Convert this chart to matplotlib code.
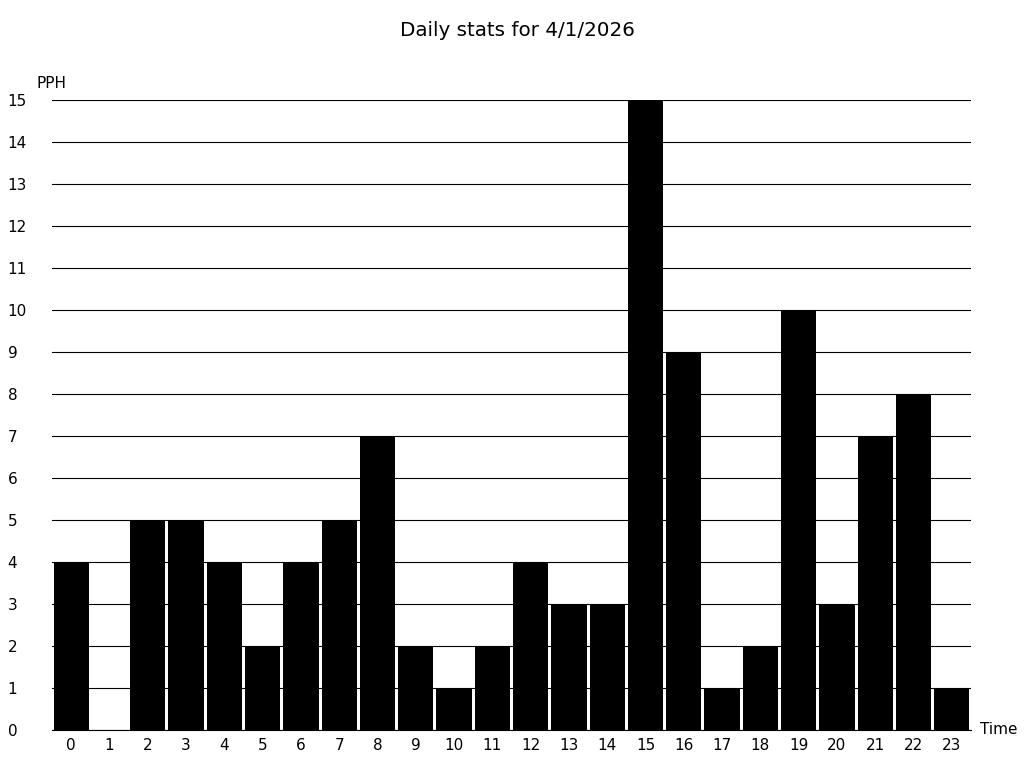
import matplotlib
matplotlib.use('Agg')
import matplotlib.pyplot as plt

# hourly counts
hours = list(range(24))
pph = [4, 0, 5, 5, 4, 2, 4, 5, 7, 2, 1, 2, 4, 3, 3, 15, 9, 1, 2, 10, 3, 7, 8, 1]
y_ticks = list(range(16))

fig = plt.figure(figsize=(10.24, 7.68), dpi=100)
ax = fig.add_axes([52 / 1024, 1 - 730 / 768, 919 / 1024, 630 / 768])

ax.set_axisbelow(True)
ax.yaxis.grid(True, color='black', linewidth=0.8)
ax.axhline(0, color='black', linewidth=0.8, clip_on=False, zorder=0)
ax.bar(hours, pph, width=0.92, color='black')

ax.set_xlim(-0.5, 23.5)
ax.set_ylim(0, 15)
ax.set_xticks(hours)
ax.set_xticklabels([str(h) for h in hours])
ax.set_yticks(y_ticks)
ax.set_yticklabels([str(v) for v in y_ticks], ha='left')
ax.tick_params(axis='both', length=0, labelsize=11)
ax.tick_params(axis='y', pad=32)
ax.tick_params(axis='x', pad=6)
for s in ax.spines.values():
    s.set_visible(False)

fig.text(400 / 1024, 1 - 30 / 768, 'Daily stats for 4/1/2026', fontsize=14.3, va='center')
fig.text(37 / 1024, 1 - 84 / 768, 'PPH', fontsize=11, va='center')
fig.text(980 / 1024, 1 - 730 / 768, 'Time', fontsize=11, va='center')

fig.savefig('out.png', dpi=100)
